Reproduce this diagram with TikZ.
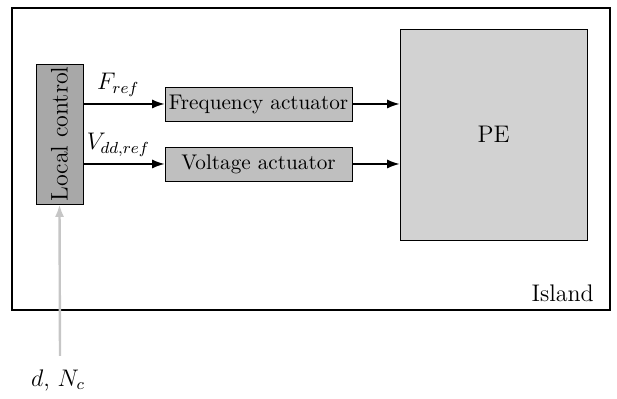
\documentclass[tikz,border=0pt]{standalone}
\usepackage{amsmath}
\usetikzlibrary{arrows.meta,positioning,calc}

\begin{document}
\begin{tikzpicture}[x=0.5pt,y=-0.5pt,
  flow/.style={-{Latex[length=2.2mm,width=1.6mm]},thick},
  inflow/.style={-{Latex[length=2.2mm,width=1.6mm]},very thick,gray!45},
  act/.style={draw,fill=gray!50,minimum width=93.5pt,minimum height=17pt,inner sep=0pt,font=\fontsize{10.6}{12}\selectfont},
  ctrl/.style={draw,fill=gray!68,rotate=90,minimum width=70pt,minimum height=23.5pt,inner sep=0pt,font=\large},
  pebox/.style={draw,fill=gray!35,minimum width=93.5pt,minimum height=105.5pt,inner sep=0pt,font=\large}
]
  \useasboundingbox (0,0) rectangle (617,399);
  % island frame
  \node[draw,thick,minimum width=299pt,minimum height=151pt,inner sep=0pt] (island) at (311,159) {};
  \node[anchor=south east,font=\large] (islandlbl) at ($(island.south east)+(-10,-2)$) {Island};

  \node[ctrl] (lc) at (59.5,134) {Local control};
  \node[act] (fa) at (258.5,104) {Frequency actuator};
  \node[act] (va) at (258.5,164) {Voltage actuator};
  \node[pebox] (pe) at (493.5,134.5) {PE};

  \draw[flow] (lc.south |- fa) -- node[pos=0.43,above,font=\large] (fref) {$F_{ref}$} (fa.west);
  \draw[flow] (lc.south |- va) -- node[pos=0.43,above,font=\large] (vref) {$V_{dd,ref}$} (va.west);
  \draw[flow] (fa.east) -- (pe.west |- fa);
  \draw[flow] (va.east) -- (pe.west |- va);

  \node[font=\large] (dist) at (58,380) {$d$, $N_c$};
  \coordinate (distend) at (60,356);
  \draw[inflow] (distend) -- (lc.west);
\end{tikzpicture}
\end{document}
